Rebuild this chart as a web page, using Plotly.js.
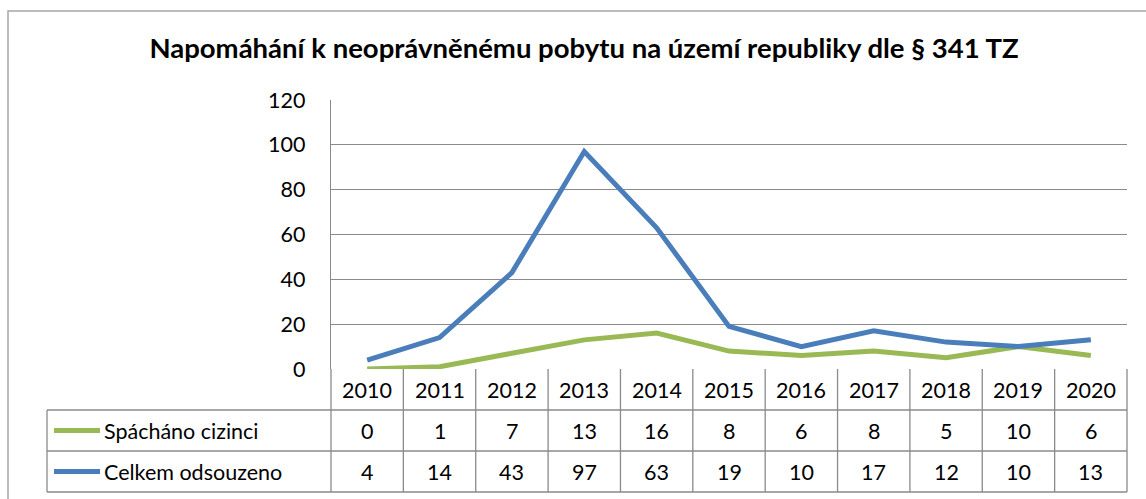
<!DOCTYPE html>
<html><head><meta charset="utf-8">
<script src="https://cdn.plot.ly/plotly-3.0.1.min.js"></script>
<style>html,body{margin:0;padding:0;background:#fff}#chart{width:1146px;height:499px}</style>
</head><body><div id="chart"></div>
<script>
const years = ['2010','2011','2012','2013','2014','2015','2016','2017','2018','2019','2020'];
const seriesNames = ['Spácháno cizinci','Celkem odsouzeno'];
const spachanoCizinci = [0,1,7,13,16,8,6,8,5,10,6];
const celkemOdsouzeno = [4,14,43,97,63,19,10,17,12,10,13];
const seriesColors = ['#98B954','#4A7EBB'];
const yTicks = [0,20,40,60,80,100,120];
const titleText = 'Napomáhání k neoprávněnému pobytu na území republiky dle § 341 TZ';

const W = 1146, H = 499;
const plotL = 331, plotR = 1127, plotT = 100, plotB = 369, tableB = 492, labelL = 47;
const px = v => v / W, py = v => 1 - v / H;
const rowH = (tableB - plotB) / 3;
const rowY = k => py(plotB + rowH * (k + 0.5));
const gridCol = '#8a8a8a', font = 'Lato, "Open Sans", sans-serif';
const tableFont = {family:font, size:21.5, color:'#000'};

const traces = [
  {x: years, y: spachanoCizinci, name: seriesNames[0], type:'scatter', mode:'lines',
   line:{color:seriesColors[0], width:5}},
  {x: years, y: celkemOdsouzeno, name: seriesNames[1], type:'scatter', mode:'lines',
   line:{color:seriesColors[1], width:5}}
];

const shapes = [];
const annotations = [];
// outer frame
shapes.push({type:'rect', xref:'paper', yref:'paper', x0:px(8), x1:px(1200), y0:py(11), y1:py(560),
  line:{color:'#a6a6a6', width:1.5}, layer:'below'});
// table vertical lines at category boundaries
for (let i = 0; i <= years.length; i++) {
  shapes.push({type:'line', xref:'x domain', yref:'paper', x0:i/years.length, x1:i/years.length,
    y0:py(plotB), y1:py(tableB), line:{color:gridCol, width:1.3}});
}
// left column vertical line
shapes.push({type:'line', xref:'paper', yref:'paper', x0:px(labelL), x1:px(labelL),
  y0:py(plotB + rowH), y1:py(tableB), line:{color:gridCol, width:1.3}});
// horizontal table lines
[1,2,3].forEach(k => {
  shapes.push({type:'line', xref:'paper', yref:'paper', x0:px(labelL), x1:px(plotR),
    y0:py(plotB + rowH*k), y1:py(plotB + rowH*k), line:{color:gridCol, width:1.3}});
});
// year row
years.forEach((yr, i) => annotations.push({xref:'x', yref:'paper', x:i, y:rowY(0), text:yr,
  showarrow:false, font:tableFont, xanchor:'center', yanchor:'middle'}));
// data rows
[spachanoCizinci, celkemOdsouzeno].forEach((vals, s) => {
  vals.forEach((v, i) => annotations.push({xref:'x', yref:'paper', x:i, y:rowY(s+1), text:String(v),
    showarrow:false, font:tableFont, xanchor:'center', yanchor:'middle'}));
  annotations.push({xref:'paper', yref:'paper', x:px(102), y:rowY(s+1), text:seriesNames[s],
    showarrow:false, font:tableFont, xanchor:'left', yanchor:'middle'});
  shapes.push({type:'line', xref:'paper', yref:'paper', x0:px(54), x1:px(100), y0:rowY(s+1), y1:rowY(s+1),
    line:{color:seriesColors[s], width:5}});
});

const layout = {
  width: W, height: H,
  margin:{l:0, r:0, t:0, b:0},
  paper_bgcolor:'#fff', plot_bgcolor:'#fff',
  showlegend:false,
  font:{family:font, color:'#000'},
  title:{text:'<b>'+titleText+'</b>', x:px(584), xanchor:'center', y:py(48), yanchor:'middle',
    xref:'paper', yref:'paper', font:{family:font, size:27.5, color:'#000'}},
  xaxis:{domain:[px(plotL), px(plotR)], type:'category', categoryarray:years, range:[-0.5, years.length-0.5],
    autorange:false, showticklabels:false, showgrid:false, zeroline:false, showline:false, ticks:'', fixedrange:true},
  yaxis:{domain:[py(plotB), py(plotT)], range:[0,120], autorange:false, tickvals:yTicks, showgrid:true, gridcolor:gridCol,
    gridwidth:1.3, zeroline:false, showline:true, linecolor:gridCol, linewidth:1.3, ticks:'',
    ticklabelstandoff:20, tickfont:{family:font, size:21.5, color:'#000'}, fixedrange:true},
  shapes, annotations
};
Plotly.newPlot('chart', traces, layout, {displayModeBar:false, staticPlot:true});
</script></body></html>
